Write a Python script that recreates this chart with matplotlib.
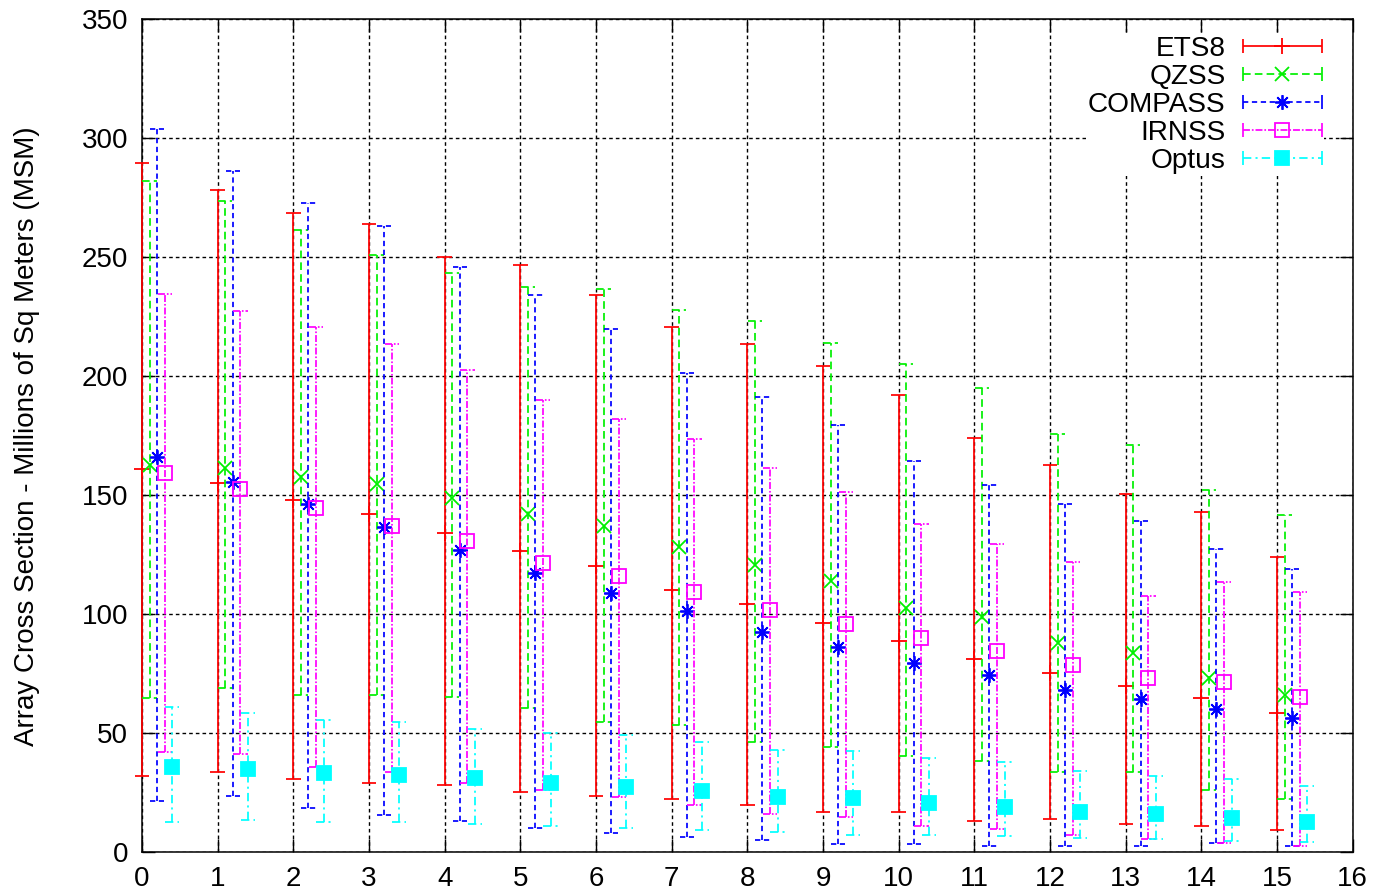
import numpy as np
import matplotlib
matplotlib.use("Agg")
import matplotlib.pyplot as plt
from matplotlib.lines import Line2D
from matplotlib.legend_handler import HandlerLine2D

plt.rcParams['font.family'] = ['Liberation Sans', 'DejaVu Sans']
plt.rcParams['lines.scale_dashes'] = False

# ---------------- data ----------------
x_groups = list(range(16))
series_names = ["ETS8", "QZSS", "COMPASS", "IRNSS", "Optus"]

ets8_mid = [161, 155, 148, 142, 134, 126.5, 120, 110, 104, 96, 88.5, 81, 75, 69.5, 64.5, 58.5]
ets8_low = [32, 33.4, 30.4, 28.7, 28, 25, 23.5, 22, 19.6, 16.8, 16.8, 13.1, 13.8, 11.5, 10.8, 9.1]
ets8_high = [289.7, 278.3, 268.4, 263.8, 250.2, 246.6, 234, 220.5, 213.4, 204.2, 192, 173.8, 162.6, 150.4, 143, 124.1]

qzss_mid = [162.6, 161.2, 157.6, 154.5, 148.8, 141.8, 136.9, 128.1, 120.7, 113.9, 102.6, 98.6, 87.6, 83.4, 72.9, 65.9]
qzss_low = [64.5, 69, 65.9, 65.9, 65.2, 60.6, 54.4, 53.2, 46.1, 43.9, 40.3, 38.2, 33.4, 33.4, 25.9, 22.2]
qzss_high = [282.2, 273.8, 261.6, 250.8, 243.5, 237.6, 236.7, 227.9, 223.3, 214.1, 204.9, 194.9, 175.7, 170.9, 152.1, 141.6]

compass_mid = [165.8, 155.5, 146.2, 136.7, 126.9, 117.1, 108.8, 101.2, 92.4, 86.2, 79.2, 74.3, 68, 64.2, 59.9, 56.1]
compass_low = [21.4, 23.5, 18.3, 15.4, 13, 10.1, 7.9, 6.2, 4.9, 3.2, 3.1, 2.5, 2.4, 2.4, 3.5, 2.5]
compass_high = [303.8, 286.4, 272.8, 263.1, 245.8, 234.3, 219.6, 201.4, 191, 179.3, 164.2, 154.3, 146.1, 139.2, 127.2, 118.7]

irnss_mid = [159.4, 152.4, 144.6, 137.1, 130.7, 121.4, 116.1, 109.2, 101.7, 95.8, 89.7, 84.5, 78.5, 73.2, 71.5, 64.9]
irnss_low = [41.8, 41.1, 35.8, 33.4, 28.7, 25.9, 22.9, 19.6, 16, 14.4, 10.8, 9.4, 7, 5.3, 3.5, 2.5]
irnss_high = [234.5, 227.5, 220.8, 213.4, 202.6, 190, 181.8, 173.5, 161.5, 151.1, 137.8, 129.4, 121.8, 107.5, 113.5, 109.1]

optus_mid = [35.5, 34.6, 33, 32.2, 30.8, 28.7, 27, 25.5, 23.1, 22.4, 20.3, 18.9, 16.6, 15.7, 14.3, 12.6]
optus_low = [12.5, 13.2, 12.3, 12.3, 11.6, 10.7, 9.9, 9.2, 8.4, 7, 7, 6.5, 5.6, 5.3, 4.6, 3.9]
optus_high = [60.7, 58.5, 55.4, 54.4, 51.6, 50, 49.1, 46.1, 42.9, 42.4, 39.3, 37.9, 34.1, 31.8, 30.6, 27.6]

x_ticks = list(range(0, 17))
y_ticks = list(range(0, 351, 50))
y_label = "Array Cross Section - Millions of Sq Meters (MSM)"

# ---------------- styles ----------------
mids = [ets8_mid, qzss_mid, compass_mid, irnss_mid, optus_mid]
lows = [ets8_low, qzss_low, compass_low, irnss_low, optus_low]
highs = [ets8_high, qzss_high, compass_high, irnss_high, optus_high]
offsets = [0.0, 0.1, 0.2, 0.3, 0.4]
colors = ["#ff0000", "#00f000", "#0000ff", "#ff00ff", "#00ffff"]
dashes = [(0, ()), (0, (5.5, 3.0)), (0, (3.8, 2.6)), (0, (5.0, 1.4, 1.2, 1.4)), (0, (6.0, 3.0, 1.5, 3.0))]
markers = ['+', 'x', (8, 2, 0), 's', 's']
msizes = [11.5, 9.5, 10.5, 9.5, 10]
mfcs = ['none', 'none', 'none', 'none', "#00ffff"]
LW = 1.25
CAPW = 0.095

fig = plt.figure(figsize=(13.77, 8.93), dpi=100)
ax = fig.add_axes([0.10312, 0.04625, 0.87923, 0.93203])

for i in range(5):
    xs = np.array(x_groups, dtype=float) + offsets[i]
    lo = np.array(lows[i]); hi = np.array(highs[i]); md = np.array(mids[i])
    z = 3 + i
    ax.vlines(xs, lo, hi, colors=colors[i], linestyles=[dashes[i]], lw=LW, zorder=z, clip_on=False)
    ax.hlines(lo, xs - CAPW, xs + CAPW, colors=colors[i], linestyles=[dashes[i]], lw=LW, zorder=z, clip_on=False)
    ax.hlines(hi, xs - CAPW, xs + CAPW, colors=colors[i], linestyles=[dashes[i]], lw=LW, zorder=z, clip_on=False)
    ax.plot(xs, md, linestyle='none', marker=markers[i], ms=msizes[i], mfc=mfcs[i],
            mec=colors[i], mew=1.3, zorder=z + 0.5, clip_on=False)

ax.set_xlim(0, 16)
ax.set_ylim(0, 350)
ax.set_xticks(x_ticks)
ax.set_yticks(y_ticks)
ax.tick_params(direction='in', length=9.5, width=1.0, top=True, right=True,
               labelsize=20, pad=10, colors='black')
ax.set_axisbelow(True)
ax.grid(True, color='black', linestyle=(0, (2.6, 2.2)), lw=1.0)
for s in ax.spines.values():
    s.set_linewidth(1.1)
    s.set_color('black')

fig.text(0.0195, 0.5118, y_label, rotation=90, ha='center', va='center', fontsize=20)

# legend (gnuplot-like samples: line with caps at both ends, marker centre)
handles = []
hmap = {}
for i in range(5):
    main = Line2D([], [], color=colors[i], linestyle=dashes[i], lw=LW, marker=markers[i],
                  ms=msizes[i], mfc=mfcs[i], mec=colors[i], mew=1.3)
    cap = Line2D([], [], color=colors[i], linestyle='none', marker='|', ms=10, mew=LW)
    hmap[cap] = HandlerLine2D(numpoints=2, marker_pad=0)
    handles.append((main, cap))
leg = ax.legend(handles, series_names, handler_map=hmap, loc='upper right',
                bbox_to_anchor=(0.9878, 1.0), markerfirst=False, fontsize=20.2,
                handlelength=2.8, handletextpad=0.62, labelspacing=0.07, borderpad=0.08,
                frameon=True, fancybox=False, framealpha=1, facecolor='white', edgecolor='none')
leg.set_zorder(20)

fig.savefig("out.png", dpi=100)
